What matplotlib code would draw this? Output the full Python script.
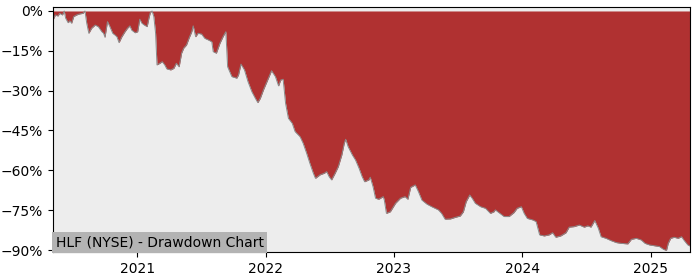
import pandas as pd
import matplotlib
matplotlib.use("Agg")
import matplotlib.pyplot as plt
import matplotlib.dates as mdates
from matplotlib.ticker import PercentFormatter, MultipleLocator

TITLE = "HLF (NYSE) - Drawdown Chart"

# drawdown readings (percent from running peak)
dates = [
    "2020-05-06", "2020-05-13", "2020-05-20", "2020-05-25", "2020-06-02", "2020-06-07",
    "2020-06-11", "2020-06-18", "2020-06-23", "2020-06-28", "2020-07-04", "2020-07-12",
    "2020-07-21", "2020-07-30", "2020-08-05", "2020-08-10", "2020-08-16", "2020-08-24",
    "2020-09-03", "2020-09-12", "2020-09-22", "2020-09-27", "2020-10-01", "2020-10-08",
    "2020-10-15", "2020-10-23", "2020-10-29", "2020-11-04", "2020-11-10", "2020-11-18",
    "2020-11-27", "2020-12-04", "2020-12-11", "2020-12-16", "2020-12-26", "2021-01-02",
    "2021-01-08", "2021-01-14", "2021-01-21", "2021-01-29", "2021-02-03", "2021-02-07",
    "2021-02-12", "2021-02-17", "2021-02-22", "2021-02-26", "2021-03-06", "2021-03-13",
    "2021-03-20", "2021-03-26", "2021-04-06", "2021-04-15", "2021-04-22", "2021-04-30",
    "2021-05-07", "2021-05-13", "2021-05-21", "2021-05-28", "2021-06-05", "2021-06-09",
    "2021-06-16", "2021-06-23", "2021-07-03", "2021-07-12", "2021-07-22", "2021-08-01",
    "2021-08-05", "2021-08-14", "2021-08-24", "2021-09-03", "2021-09-10", "2021-09-15",
    "2021-09-27", "2021-10-11", "2021-10-16", "2021-10-23", "2021-11-02", "2021-11-12",
    "2021-11-23", "2021-12-03", "2021-12-10", "2021-12-17", "2021-12-26", "2022-01-05",
    "2022-01-18", "2022-01-29", "2022-02-07", "2022-02-13", "2022-02-20", "2022-02-27",
    "2022-03-07", "2022-03-18", "2022-03-26", "2022-04-09", "2022-04-18", "2022-04-28",
    "2022-05-07", "2022-05-17", "2022-05-23", "2022-06-05", "2022-06-17", "2022-06-24",
    "2022-07-01", "2022-07-08", "2022-07-18", "2022-07-27", "2022-08-06", "2022-08-13",
    "2022-08-17", "2022-08-24", "2022-09-05", "2022-09-14", "2022-09-24", "2022-10-03",
    "2022-10-10", "2022-10-22", "2022-10-26", "2022-11-03", "2022-11-10", "2022-11-19",
    "2022-12-02", "2022-12-05", "2022-12-11", "2022-12-22", "2023-01-06", "2023-01-20",
    "2023-02-02", "2023-02-10", "2023-02-18", "2023-03-03", "2023-03-12", "2023-03-22",
    "2023-04-05", "2023-04-19", "2023-05-08", "2023-05-17", "2023-05-27", "2023-06-11",
    "2023-06-25", "2023-07-09", "2023-07-18", "2023-07-26", "2023-08-05", "2023-08-12",
    "2023-08-21", "2023-09-05", "2023-09-19", "2023-10-03", "2023-10-13", "2023-10-17",
    "2023-10-27", "2023-11-11", "2023-11-25", "2023-12-09", "2023-12-18", "2023-12-30",
    "2024-01-07", "2024-01-16", "2024-02-01", "2024-02-10", "2024-02-20", "2024-03-04",
    "2024-03-18", "2024-03-28", "2024-04-06", "2024-04-20", "2024-05-05", "2024-05-14",
    "2024-05-28", "2024-06-12", "2024-06-26", "2024-07-06", "2024-07-15", "2024-07-26",
    "2024-08-05", "2024-08-13", "2024-08-27", "2024-09-11", "2024-09-25", "2024-10-09",
    "2024-10-28", "2024-11-07", "2024-11-21", "2024-12-05", "2024-12-16", "2024-12-29",
    "2025-01-12", "2025-01-26", "2025-02-06", "2025-02-15", "2025-02-20", "2025-02-27",
    "2025-03-09", "2025-03-20", "2025-03-30", "2025-04-07", "2025-04-17", "2025-04-23",
]
drawdown_pct = [
    -3.4, -1.5, -1.9, -0.9, -1.5, 0.0,
    -2.7, -4.4, -3.7, -4.6, -2.1, -1.5,
    -1.1, -0.9, 0.0, -4.6, -8.4, -6.5,
    -5.3, -5.9, -7.8, -8.4, -9.9, -4.0,
    -5.9, -8.4, -9.0, -9.7, -11.9, -9.7,
    -7.8, -6.5, -5.6, -7.2, -8.2, -7.8,
    -3.1, -4.6, -5.3, -5.9, -2.7, -0.6,
    0.0, -2.1, -8.4, -20.3, -19.7, -19.1,
    -20.3, -21.8, -22.2, -21.6, -19.7, -21.0,
    -15.9, -14.0, -12.8, -10.3, -7.8, -5.6,
    -9.7, -8.4, -8.7, -10.3, -10.9, -11.6,
    -15.3, -15.9, -12.2, -9.4, -7.8, -21.0,
    -24.7, -25.3, -24.1, -20.0, -22.2, -26.6,
    -30.4, -32.9, -34.5, -32.9, -29.7, -26.6,
    -22.5, -24.7, -28.2, -26.0, -25.7, -34.8,
    -40.4, -42.3, -45.4, -47.3, -49.8, -53.6,
    -57.3, -61.1, -63.0, -61.7, -61.1, -60.5,
    -62.4, -63.6, -61.1, -58.6, -54.2, -49.8,
    -48.3, -51.1, -54.2, -56.1, -59.2, -62.4,
    -64.3, -63.6, -62.6, -66.2, -70.5, -70.9,
    -69.9, -71.2, -76.2, -75.6, -72.4, -70.5,
    -69.9, -70.9, -66.4, -65.5, -68.0, -71.2,
    -72.7, -73.7, -74.9, -76.2, -78.4, -78.3,
    -77.7, -77.2, -75.6, -71.8, -69.3, -70.5,
    -72.4, -73.7, -74.3, -76.2, -75.6, -74.9,
    -75.9, -77.4, -77.4, -75.9, -74.3, -73.7,
    -76.2, -78.1, -78.7, -79.3, -84.3, -84.7,
    -84.3, -83.5, -85.2, -84.7, -83.5, -81.4,
    -81.2, -80.6, -81.4, -80.9, -81.4, -78.9,
    -81.8, -85.0, -85.6, -86.5, -87.2, -87.5,
    -87.7, -86.0, -85.6, -86.2, -87.5, -88.1,
    -88.4, -88.7, -89.7, -90.2, -87.5, -85.6,
    -85.2, -85.6, -85.0, -86.5, -88.1, -88.5,
]

df = pd.DataFrame({"date": pd.to_datetime(dates), "dd": [v / 100 for v in drawdown_pct]})

fig = plt.figure(figsize=(7, 2.8), dpi=100)
ax = fig.add_axes([0.0757, 0.1, 0.91, 0.875])
ax.set_facecolor("#ededed")

ax.fill_between(df["date"], df["dd"], 0, color="#b03131", linewidth=0)
ax.plot(df["date"], df["dd"], color="#8a8a8a", linewidth=0.7)

ax.set_xlim(df["date"].iloc[0], df["date"].iloc[-1])
ax.set_ylim(-0.9075, 0.015)
ax.yaxis.set_major_locator(MultipleLocator(0.15))
ax.yaxis.set_major_formatter(PercentFormatter(1.0, decimals=0))
ax.xaxis.set_major_locator(mdates.YearLocator())
ax.xaxis.set_major_formatter(mdates.DateFormatter("%Y"))
ax.tick_params(labelsize=10)

ax.text(0.004, 0.012, TITLE, transform=ax.transAxes, fontsize=10, ha="left", va="bottom",
        bbox=dict(facecolor="#b3b3b3", edgecolor="none", pad=2.5))

fig.savefig("out.png", dpi=100)
plt.close(fig)
